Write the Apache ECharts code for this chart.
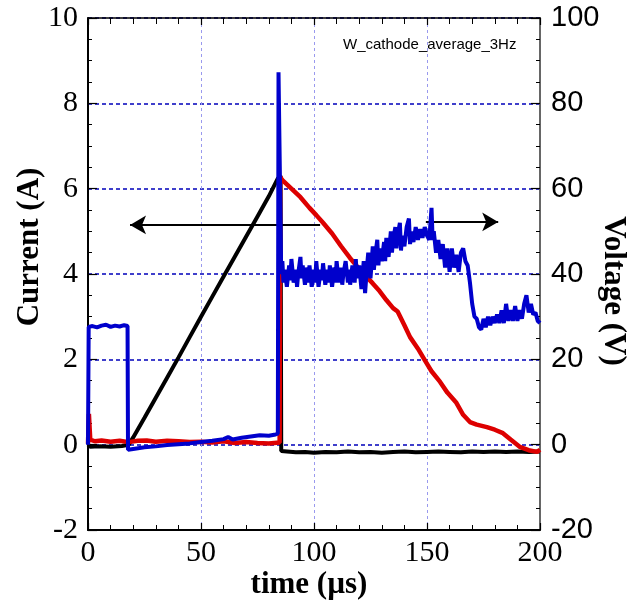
<!DOCTYPE html>
<html>
<head>
<meta charset="utf-8">
<script src="https://cdn.jsdelivr.net/npm/echarts@6/dist/echarts.min.js"></script>
<style>html,body{margin:0;padding:0;background:#fff;}#c{width:636px;height:609px;}</style>
</head>
<body>
<div id="c"></div>
<script>
// ---- data (time in µs) ----
var currentTicks = [-2, 0, 2, 4, 6, 8, 10];
var voltageTicks = [-20, 0, 20, 40, 60, 80, 100];
var timeTicks = [0, 50, 100, 150, 200];

// black trace (A, left axis)
var blackTrace = [
  [0,0.0],[1,-0.05],[5,-0.04],[10,-0.05],[15,-0.03],[18,0.0],[20,0.17],[25,0.63],[30,1.1],[35,1.57],
  [40,2.04],[45,2.52],[50,3.0],[55,3.47],[60,3.94],[65,4.41],[70,4.88],[75,5.35],[80,5.82],[84,6.24],
  [85.2,6.3],[85.5,-0.15],[88,-0.16],[92,-0.18],[96,-0.17],[100,-0.19],[105,-0.17],[110,-0.18],[115,-0.16],
  [120,-0.18],[125,-0.17],[130,-0.19],[135,-0.17],[140,-0.16],[145,-0.18],[150,-0.17],[155,-0.16],
  [160,-0.17],[165,-0.18],[170,-0.16],[175,-0.17],[180,-0.16],[185,-0.17],[190,-0.16],[195,-0.17],[200,-0.16]
];

// red trace (A, left axis)
var redTrace = [
  [0,0.02],[0.4,0.72],[1,0.12],[3,0.08],[6,0.1],[10,0.07],[14,0.09],[18,0.06],[22,0.09],[26,0.1],
  [30,0.07],[35,0.09],[40,0.08],[45,0.06],[50,0.07],[55,0.05],[60,0.08],[65,0.04],[70,0.06],[75,0.04],
  [80,0.03],[84.8,0.05],[85.0,6.28],[86,6.2],[90,6.0],[94,5.8],[98,5.55],[101,5.38],[104,5.2],[108,4.95],
  [112,4.65],[116,4.37],[120,4.12],[123,3.95],[126,3.78],[129,3.6],[132,3.39],[135,3.2],[137,3.12],
  [140,2.8],[142.5,2.52],[146,2.25],[149,1.98],[152,1.72],[155.8,1.47],[159,1.22],[163,0.98],[166,0.7],
  [169,0.53],[172,0.47],[176.5,0.41],[180,0.35],[183.6,0.27],[187,0.12],[191,-0.05],[195,-0.13],
  [198.7,-0.17],[200,-0.12]
];

// blue trace (V, right axis)
var blueTrace = [
  [0,0],[0.3,27.6],[2,27.8],[4,27.5],[6,27.9],[8,28.1],[10,27.6],[12,27.9],[14,27.7],[16,28.0],[17.5,27.8],
  [17.7,-1.2],[20,-1.0],[25,-0.6],[30,-0.4],[35,-0.1],[40,0.1],[45,0.3],[50,0.6],[55,0.9],[60,1.3],
  [62,1.8],[64,1.2],[68,1.6],[72,1.9],[76,2.2],[80,2.1],[83,2.4],[84,2.6],[84.3,87.3],[85.1,87.3],[85.5,40],
  [86,43],[86.5,38],[87,41],[88,37],[89,42],[89.5,38.5],[90,43.5],[91,38],[92,41],[92.5,37],[93,40],
  [94,44],[94.5,39],[95,42],[96,37.5],[97,41.5],[97.5,38],[98,42],[99,37],[100,41],[100.5,38],[101,43],
  [102,37],[103,41],[103.5,38.5],[104,42.5],[105,37.5],[106,41],[106.5,38],[107,42],[108,37],[109,41.5],
  [109.5,38],[110,43],[111,38],[112,41.5],[112.5,37.5],[113,40],[114,43],[115,38],[115.5,41],[116,37.5],
  [117,42],[118,38],[118.5,43.5],[119,39],[120,42],[121,36.5],[122,43],[122.6,35.5],[123.5,42],[124,45],
  [125,39],[126,46.5],[126.5,41],[127,44],[128,48],[128.5,42],[129,46],[130,43],[131,47.5],[131.5,43],
  [132,48.5],[133,44],[134,50],[134.5,45],[135,48],[136,51],[136.5,46],[137,49],[138,52],[138.5,45.5],
  [139,49],[140,46.5],[141,51],[142,53],[142.5,47],[143,50],[144,47.5],[145,51],[146,48],[147,50.5],
  [148,48.5],[149,51],[150,49],[151,48],[152,55.5],[152.5,48],[153,50],[154,45],[155,48],[156,43.5],
  [157,47],[158,41.5],[159,46],[160,40.5],[161,46],[162,41.5],[163,44.5],[164,40.5],[165,45],[166,46],
  [167,43],[168,42],[169,38],[170,33],[171,30],[172,29.5],[173,27.5],[174,27],[175,29.5],[176,27.5],
  [177,30],[178,28],[179,30],[180,28.5],[181,30.5],[182,28.5],[183,31.5],[184,28.5],[185,33],[186,29],
  [187,31.5],[188,29],[189,32.5],[190,29],[191,31.5],[192,29.5],[193,33],[194,35],[195,31],[196,33],
  [197,30.5],[198,31],[199,29],[200,28.5]
];

// arrows: current arrow (A units), voltage arrow (V units)
var arrowCurrent = [[102.7, 5.15], [18.6, 5.15]];
var arrowVoltage = [[149.5, 52.2], [181.5, 52.2]];

var annotation = 'W_cathode_average_3Hz';

var serif = '"Liberation Serif","Times New Roman",serif';
var sans = '"Liberation Sans",Arial,sans-serif';

var chart = echarts.init(document.getElementById('c'), null, {renderer: 'canvas'});

var gridL = 88, gridR = 96, gridT = 18, gridB = 79;

chart.setOption({
  animation: false,
  backgroundColor: '#fff',
  grid: {left: gridL, right: gridR, top: gridT, bottom: gridB, containLabel: false},
  xAxis: [{
    type: 'value', min: 0, max: 200, interval: 50, position: 'bottom',
    axisLine: {show: true, onZero: false, lineStyle: {color: '#000', width: 2}},
    axisTick: {show: true, inside: true, length: 7, lineStyle: {color: '#000', width: 1.2}},
    minorTick: {show: true, splitNumber: 5, length: 5, lineStyle: {color: '#000', width: 1}},
    axisLabel: {color: '#000', fontFamily: serif, fontSize: 30, margin: 8,
      formatter: function (v) { return timeTicks.indexOf(v) >= 0 ? String(v) : ''; }},
    splitLine: {show: true, lineStyle: {color: '#9999ee', type: [3, 3], width: 1}}
  }, {
    type: 'value', min: 0, max: 200, interval: 50, position: 'top',
    axisLine: {show: true, onZero: false, lineStyle: {color: '#000', width: 1.5}},
    axisTick: {show: true, inside: true, length: 7, lineStyle: {color: '#000', width: 1.2}},
    minorTick: {show: true, splitNumber: 5, length: 6, lineStyle: {color: '#000', width: 1}},
    axisLabel: {show: false},
    splitLine: {show: false}
  }],
  yAxis: [{
    type: 'value', min: -2, max: 10, interval: 2, position: 'left',
    axisLine: {show: true, onZero: false, lineStyle: {color: '#000', width: 2}},
    axisTick: {show: true, inside: true, length: 9, lineStyle: {color: '#000', width: 1.2}},
    minorTick: {show: true, splitNumber: 4, length: 4, lineStyle: {color: '#000', width: 1}},
    axisLabel: {color: '#000', fontFamily: serif, fontSize: 30, margin: 10,
      formatter: function (v) { return currentTicks.indexOf(v) >= 0 ? String(v) : ''; }},
    splitLine: {show: true, lineStyle: {color: '#0000bb', type: [4, 3], width: 1.5}}
  }, {
    type: 'value', min: -20, max: 100, interval: 20, position: 'right',
    axisLine: {show: true, onZero: false, lineStyle: {color: '#666', width: 2}},
    axisTick: {show: true, inside: true, length: 9, lineStyle: {color: '#000', width: 1.2}},
    minorTick: {show: true, splitNumber: 4, length: 4, lineStyle: {color: '#000', width: 1}},
    axisLabel: {color: '#000', fontFamily: sans, fontSize: 29, margin: 11,
      formatter: function (v) { return voltageTicks.indexOf(v) >= 0 ? String(v) : ''; }},
    splitLine: {show: false}
  }],
  series: [{
    type: 'line', name: 'black', xAxisIndex: 0, yAxisIndex: 0, data: blackTrace,
    showSymbol: false, symbol: 'none', lineStyle: {color: '#000', width: 4}, z: 3
  }, {
    type: 'line', name: 'red', xAxisIndex: 0, yAxisIndex: 0, data: redTrace,
    showSymbol: false, symbol: 'none', lineStyle: {color: '#dd0000', width: 4.5}, z: 4
  }, {
    type: 'line', name: 'blue', xAxisIndex: 0, yAxisIndex: 1, data: blueTrace,
    showSymbol: false, symbol: 'none', lineStyle: {color: '#0000cc', width: 4}, z: 5
  }, {
    type: 'line', name: 'arrowA', xAxisIndex: 0, yAxisIndex: 0, data: [], z: 6,
    markLine: {
      silent: true, symbol: ['none', 'arrow'], symbolSize: [14, 16], animation: false,
      label: {show: false},
      lineStyle: {color: '#000', width: 2, type: 'solid'},
      data: [[{coord: arrowCurrent[0]}, {coord: arrowCurrent[1]}]]
    }
  }, {
    type: 'line', name: 'arrowV', xAxisIndex: 0, yAxisIndex: 1, data: [], z: 6,
    markLine: {
      silent: true, symbol: ['none', 'arrow'], symbolSize: [14, 16], animation: false,
      label: {show: false},
      lineStyle: {color: '#000', width: 2, type: 'solid'},
      data: [[{coord: arrowVoltage[0]}, {coord: arrowVoltage[1]}]]
    }
  }],
  graphic: [{
    type: 'text', left: 343, top: 37,
    style: {text: annotation, fill: '#000', font: '15px ' + sans}
  }, {
    type: 'text', x: 30, y: 247, rotation: Math.PI / 2,
    style: {text: 'Current (A)', fill: '#000', font: 'bold 31px ' + serif, textAlign: 'center', textVerticalAlign: 'middle'}
  }, {
    type: 'text', x: 613, y: 291, rotation: -Math.PI / 2,
    style: {text: 'Voltage (V)', fill: '#000', font: 'bold 31px ' + serif, textAlign: 'center', textVerticalAlign: 'middle'}
  }, {
    type: 'text', x: 309, y: 585,
    style: {text: 'time (µs)', fill: '#000', font: 'bold 31px ' + serif, textAlign: 'center', textVerticalAlign: 'middle'}
  }]
});
</script>
</body>
</html>
